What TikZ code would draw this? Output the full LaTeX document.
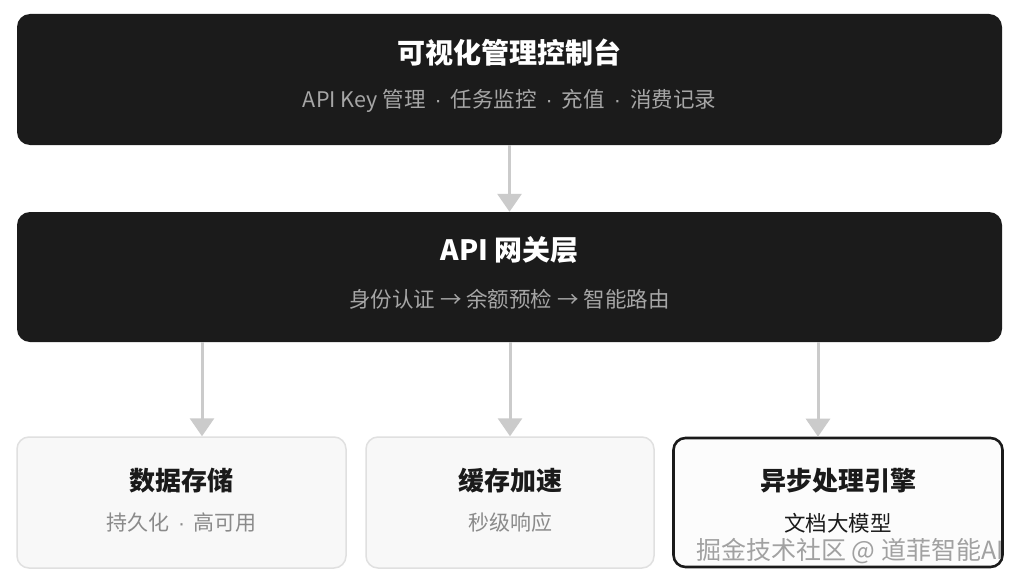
\documentclass[tikz,border=0pt]{standalone}
\usepackage{fontspec}
\setmainfont{Noto Sans CJK SC}
\newfontfamily\latinfont{Liberation Sans}
\usetikzlibrary{arrows.meta,positioning}
\definecolor{panel}{HTML}{1B1B1B}
\definecolor{subgray}{HTML}{A6A6A6}
\definecolor{linegray}{HTML}{CBCBCB}
\definecolor{cardfill}{HTML}{F8F8F8}
\definecolor{cardline}{HTML}{E0E0E0}
\definecolor{ink}{HTML}{1A1A1A}
\definecolor{mutedink}{HTML}{8A8A8A}
\newcommand\dotsep{\hspace{9pt}{\latinfont ·}\hspace{9pt}}

\begin{document}
\begin{tikzpicture}[x=1pt,y=-1pt,
    layer/.style={fill=panel, rounded corners=13pt, minimum width=985pt, minimum height=131pt, inner sep=0pt},
    card/.style={fill=cardfill, draw=cardline, line width=1.5pt, rounded corners=12pt, minimum height=131pt, inner sep=0pt},
    hot/.style={fill=cardfill!40, draw=ink, line width=2.6pt, rounded corners=12pt, minimum height=129pt, inner sep=0pt},
    bigtitle/.style={text=white, font=\bfseries\fontsize{28}{28}\selectfont},
    bigsub/.style={text=subgray, font=\fontsize{21.5}{21.5}\selectfont},
    cardtitle/.style={text=ink, font=\bfseries\fontsize{26}{26}\selectfont},
    cardsub/.style={text=mutedink, font=\fontsize{21}{21}\selectfont},
    flow/.style={linegray, line width=3pt, -{Triangle[width=24pt,length=18pt]}}]

    \fill[white] (0,0) rectangle (1022,586);

    % upper layers
    \node[layer] (console) at (509.5,79.5) {};
    \node[bigtitle] (consoletitle) at (509.5,53) {可视化管理控制台};
    \node[bigsub] (consolesub) at (509.5,101) {API Key 管理\dotsep 任务监控\dotsep 充值\dotsep 消费记录};

    \node[layer, minimum height=130pt] (gw) at (509.5,277) {};
    \node[bigtitle] (gwtitle) at (509.5,250) {API 网关层};
    \node[bigsub] (gwsub) at (509.5,299) {身份认证 → 余额预检 → 智能路由};

    % services
    \node[card, minimum width=329pt] (store) at (181.5,502.5) {};
    \node[cardtitle] (storetitle) at (181.5,481) {数据存储};
    \node[cardsub] (storesub) at (181.5,523) {持久化\dotsep 高可用};

    \node[card, minimum width=288pt] (cache) at (510,502.5) {};
    \node[cardtitle] (cachetitle) at (510,481) {缓存加速};
    \node[cardsub] (cachesub) at (510,523) {秒级响应};

    \node[hot, minimum width=329pt] (engine) at (838,502.5) {};
    \node[cardtitle] (enginetitle) at (838,481) {异步处理引擎};
    \node[text=ink, font=\fontsize{21.5}{21.5}\selectfont] (enginesub) at (838,523) {文档大模型};

    \node[text=mutedink!80, font=\fontsize{25}{25}\selectfont] (mark) at (850,551) {掘金技术社区 @ 道菲智能AI};

    % connectors
    \coordinate (c1) at (202,0);
    \coordinate (c2) at (510,0);
    \coordinate (c3) at (818,0);
    \draw[flow] (console.south) -- (gw.north);
    \draw[flow] (gw.south -| c1) -- (store.north -| c1);
    \draw[flow] (gw.south -| c2) -- (cache.north -| c2);
    \draw[flow] (gw.south -| c3) -- (engine.north -| c3);
\end{tikzpicture}
\end{document}
